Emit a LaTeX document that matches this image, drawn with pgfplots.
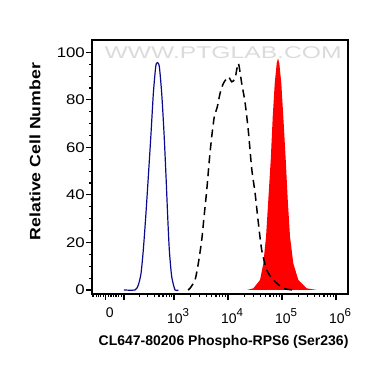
\documentclass[border=0pt]{standalone}
\usepackage{fontspec}
\setmainfont{Liberation Sans}
\usepackage{pgfplots}
\pgfplotsset{compat=1.18}
\definecolor{navyline}{RGB}{10,10,140}
\newcommand{\tp}[1]{10\raisebox{0.55em}{\fontsize{11.5}{12}\selectfont #1}}
\begin{document}
\begin{tikzpicture}
\begin{axis}[
  set layers=standard,
  scale only axis,
  width=256pt, height=254pt,
  xmin=1.481, xmax=6.222,
  ymin=-1.7, ymax=105.2,
  axis line style={line width=1.1pt},
  tick style={line width=1.1pt, black},
  tick align=outside,
  major tick length=6pt,
  minor tick length=3pt,
  xtick={1.735,3,4,5,6},
  xticklabels={0,\tp{3},\tp{4},\tp{5},\tp{6}},
  extra x ticks={2.074},
  extra x tick labels={},
  minor xtick={1.500,1.556,1.598,1.643,1.691,1.783,1.833,1.876,1.926,1.969,2.031,
    2.353,2.516,2.631,2.721,2.795,2.857,2.910,2.958,
    3.301,3.477,3.602,3.699,3.778,3.845,3.903,3.954,
    4.301,4.477,4.602,4.699,4.778,4.845,4.903,4.954,
    5.301,5.477,5.602,5.699,5.778,5.845,5.903,5.954},
  ytick={0,20,40,60,80,100},
  minor y tick num=3,
  xtick pos=bottom, ytick pos=left,
  ticklabel style={font=\fontsize{14}{16}\selectfont},
  yticklabel={\scalebox{1.2}[1]{\pgfmathprintnumber[assume math mode=true]{\tick}}},
  yticklabel style={inner sep=1pt},
  xticklabel style={inner sep=1pt, yshift=-7pt, xshift=4pt},
  ylabel={\scalebox{1.18}[1]{Relative Cell Number}},
  ylabel style={font=\bfseries\fontsize{15}{17}\selectfont, at={(axis description cs:-0.223,0.561)}, anchor=center},
  xlabel={CL647-80206 Phospho-RPS6 (Ser236)},
  xlabel style={font=\bfseries\fontsize{14}{16}\selectfont, at={(axis description cs:0.514,-0.188)}, anchor=center},
]
\begin{pgfonlayer}{axis background}
\node[text=black!14, font=\fontsize{17}{18}\selectfont, xscale=1.45] at (axis description cs:0.512,0.949) {WWW.PTGLAB.COM};
\end{pgfonlayer}
% red filled sample
\addplot[draw=none, fill=red] coordinates {
(4.352,0) (4.469,0.7) (4.593,4.2) (4.654,11.2) (4.704,22.4) (4.746,37.9) (4.791,54.7)
(4.828,72.9) (4.865,86.9) (4.902,95.4) (4.926,97.5) (4.950,95.4) (4.987,86.9)
(5.024,72.9) (5.069,54.7) (5.106,37.9) (5.148,22.4) (5.209,11.2) (5.302,4.2)
(5.457,0.7) (5.643,0)} \closedcycle;
% dashed control
\addplot[black, line width=1.5pt, dash pattern=on 8pt off 5pt, smooth, tension=0.4] coordinates {
(3.259,0) (3.296,0.7) (3.389,4.2) (3.450,11.2) (3.513,21) (3.556,30.8) (3.606,42)
(3.654,54.7) (3.698,64.5) (3.746,72.9) (3.802,77.1) (3.852,82.7) (3.913,86.9)
(4.006,89.7) (4.069,87.6) (4.130,89) (4.191,95.4) (4.254,86.9) (4.315,79)
(4.376,67) (4.439,51) (4.500,41) (4.561,28.4) (4.624,16.8) (4.717,8.4)
(4.839,4.2) (5.024,0.7) (5.209,0)};
% blue unstained
\addplot[navyline, line width=1.2pt, smooth, tension=0.4] coordinates {
(2.070,0) (2.278,0) (2.339,2.1) (2.389,7) (2.431,16.8) (2.476,30.8) (2.524,47.7)
(2.574,65.9) (2.617,82.7) (2.661,94) (2.691,95.7) (2.728,94) (2.772,82.7)
(2.815,65.9) (2.852,47.7) (2.883,30.8) (2.913,16.8) (2.957,5.6) (3.019,0) (3.080,0)};
\end{axis}
\pgfresetboundingbox
\path[use as bounding box] ([shift={(-92pt,-73pt)}]current axis.south west) rectangle ([shift={(22pt,40pt)}]current axis.north east);
\end{tikzpicture}
\end{document}
